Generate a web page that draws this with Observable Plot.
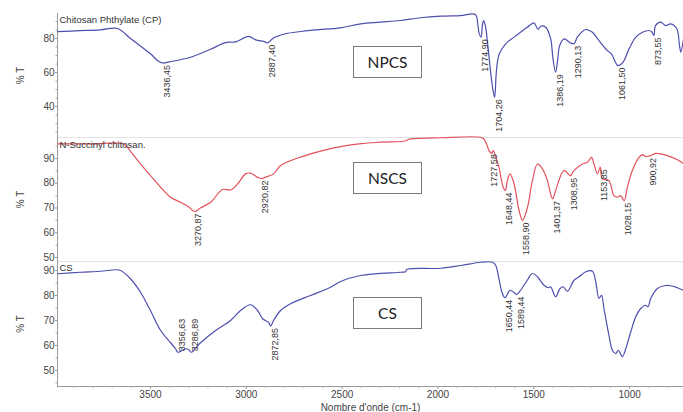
<!DOCTYPE html>
<html><head><meta charset="utf-8">
<script src="https://cdn.jsdelivr.net/npm/d3@7"></script>
<script src="https://cdn.jsdelivr.net/npm/@observablehq/plot@0.6"></script>
<style>
body{margin:0;background:#fff;font-family:"Liberation Sans",Arial,sans-serif;}
#wrap{position:relative;width:683px;height:412px;overflow:hidden;}
#wrap svg{display:block;overflow:visible;background:transparent;}
.box{position:absolute;left:353px;width:69px;height:32px;border:1px solid #7a7a7a;box-sizing:border-box;font-family:Lato,"Open Sans",sans-serif;font-size:15.5px;color:#222;display:flex;align-items:center;justify-content:center;background:#fff;}
</style></head>
<body><div id="wrap"></div>
<script>
// ---- data ----
const xDomain = [3985, 719];
const xTicks = [3500, 3000, 2500, 2000, 1500, 1000];
const xMinorTicks = [3900,3800,3700,3600,3400,3300,3200,3100,2900,2800,2700,2600,2400,2300,2200,2100,1900,1800,1700,1600,1400,1300,1200,1100,900,800];
const xLabel = "Nombre d'onde (cm-1)";
const yLabel = "% T";
const panelNames = ["NPCS", "NSCS", "CS"];
const sampleNames = ["Chitosan Phthylate (CP)", "N-Succinyl chitosan.", "CS"];

const npcsYTicks = [40, 60, 80];
const npcsYMinor = [25, 30, 35, 45, 50, 55, 65, 70, 75, 85, 90];
const nscsYTicks = [50, 60, 70, 80, 90];
const nscsYMinor = [55, 65, 75, 85, 95];
const csYTicks = [50, 60, 70, 80, 90];
const csYMinor = [45, 55, 65, 75, 85];

// [wavenumber cm-1, %T]
const npcs = [[3985,84.1],[3865,84.6],[3761,85.1],[3672,85.9],[3604,80],[3500,71],[3460,66.8],[3436.45,65.6],[3400,66.3],[3291,69],[3186,73.7],[3108,77.6],[3056,78],[2988,81.2],[2951,79.2],[2910,78.3],[2887.4,77.5],[2860,80.2],[2795,82.8],[2717,84.1],[2638,85.1],[2508,86.3],[2404,88.6],[2299,89.6],[2195,90.6],[2090,92.2],[1986,93.1],[1882,93.5],[1805,94.1],[1792,88],[1785,83],[1774.9,80.8],[1768,88],[1762,90.5],[1752,87],[1740,76],[1725,60],[1712,49],[1704.26,45.5],[1697,58],[1690,66],[1680,71],[1647,76.9],[1603,80.8],[1569,83.7],[1534,86.6],[1499,89.2],[1478,85.3],[1464,87.2],[1438,86.6],[1412,79.8],[1400,68],[1386.19,60.2],[1375,68],[1365,75.9],[1342,79.8],[1310,77.5],[1290.13,76.9],[1273,80.8],[1229,85.3],[1212,84.7],[1194,83.7],[1160,78.8],[1116,72.9],[1095,71],[1061.5,64.1],[1035,66],[1003,73.9],[968,80.8],[933,83.7],[899,84.7],[885,84],[873.55,81.8],[865,87.6],[838,89.6],[812,87.6],[786,88.6],[754,85.7],[740,76],[733,72],[719,79.8]];
const nscs = [[3985,95.9],[3800,95.9],[3640,95.9],[3604,92.9],[3552,87.8],[3500,83.1],[3447,78.4],[3395,74.4],[3343,72.3],[3300,70.4],[3270.87,68.6],[3240,70],[3186,72.3],[3124,77.5],[3082,77.3],[3045,79.8],[3004,83.8],[2978,84.1],[2945,82.6],[2920.82,81.9],[2899,82.5],[2858,83.8],[2821,87.2],[2743,89.9],[2664,91.9],[2586,93.5],[2508,94.8],[2400,96],[2299,96.6],[2165,97.2],[2155,97.7],[1986,98.4],[1777,98.6],[1760,97.9],[1740,94.5],[1734,93.2],[1727.58,92.6],[1720,92.1],[1712,93.2],[1700,91],[1682,86.5],[1660,78.5],[1648.44,77.1],[1638,81.1],[1624,83.8],[1603,79.8],[1577,69],[1558.9,65],[1533,70.3],[1507,81.1],[1481,87.8],[1455,85.8],[1429,81.1],[1410,75],[1401.37,73.7],[1386,77.1],[1342,85.2],[1308.95,83.1],[1290,85.2],[1246,87.8],[1220,88.5],[1199,90.5],[1186,87.8],[1168,83.8],[1153.85,86.5],[1142,81.8],[1108,81.1],[1082,75],[1064,74.4],[1047,75],[1028.15,73],[1012,78.4],[986,85.2],[951,90.5],[933,91.6],[916,90.8],[900.92,91],[890,91.2],[864,92.1],[803,91.2],[751,89.5],[716,87.8]];
const cs = [[3985,88.7],[3865,89.3],[3761,89.7],[3682,90.3],[3656,90],[3604,86.7],[3552,81.3],[3500,74],[3447,66],[3395,61.1],[3370,58.8],[3356.63,57.3],[3317,58.7],[3300,58.3],[3286.89,57.3],[3239,61.1],[3160,66],[3082,70],[3030,74],[2978,76.3],[2941,74],[2915,70.7],[2884,69.3],[2872.85,67.8],[2858,70],[2821,74],[2769,76.7],[2665,80],[2560,83.3],[2508,85.6],[2404,88],[2195,89.3],[2170,89.5],[2163,90.4],[1986,90.9],[1880,92],[1777,93.3],[1715,93.3],[1699,92.1],[1682,86.8],[1665,81],[1650.44,79.1],[1624,82.1],[1600,81],[1589.44,80.4],[1569,82.1],[1534,86.1],[1507,88.8],[1481,87.5],[1447,84.1],[1421,83.1],[1412,83.5],[1386,79.5],[1363,82.8],[1346,83.5],[1325,81.7],[1290,86.1],[1264,87.5],[1229,89.5],[1194,89.7],[1177,85.5],[1160,78.8],[1147,80.1],[1134,74.8],[1108,64.1],[1090,58.1],[1073,56.8],[1059,58.1],[1038,55.5],[1020,58.8],[994,65.5],[968,71.5],[942,74.8],[916,76.1],[904,75.5],[890,78.8],[855,82.8],[821,83.9],[786,83.9],[751,83.1],[719,82.1]];

// peak annotations: [wavenumber, label goes up?]
const npcsPeaks = [[3436.45,false],[2887.40,false],[1774.90,false],[1704.26,false],[1386.19,false],[1290.13,false],[1061.50,false],[873.55,false]];
const nscsPeaks = [[3270.87,false],[2920.82,false],[1727.58,false],[1648.44,false],[1558.90,false],[1401.37,false],[1308.95,false],[1153.85,false],[1028.15,false],[900.92,false]];
const csPeaks = [[3356.63,true],[3286.89,true],[2872.85,false],[1650.44,false],[1589.44,false]];

// ---- drawing ----
const FONT = "Liberation Sans, Arial, sans-serif";
function valueAt(data, wn) {
  for (let i = 0; i < data.length - 1; i++) {
    const [a, ta] = data[i], [b, tb] = data[i + 1];
    if (wn <= a && wn >= b) return ta + (tb - ta) * (a - wn) / (a - b);
  }
  return data[data.length - 1][1];
}
const fmt = (wn) => wn.toFixed(2).replace(".", ",");
const intFmt = (d) => String(d);

function makePanel(cfg) {
  const pts = cfg.data.map(([wn, t]) => ({wn, t}));
  const peaks = cfg.peaks.map(([wn, up]) => ({wn, t: valueAt(cfg.data, wn), label: fmt(wn), up}));
  const marks = [];
  if (cfg.sep) marks.push(Plot.ruleY([cfg.yDomain[1]], {stroke: "#e4e4e4"}));
  marks.push(Plot.ruleX([xDomain[0]], {stroke: "#9a9a9a"}));
  marks.push(Plot.axisY({ticks: cfg.yMinor, tickSize: 1.5, tickFormat: () => "", label: null, stroke: "#aaa"}));
  marks.push(Plot.axisY({ticks: cfg.yTicks, tickSize: 2, tickPadding: 1, tickFormat: intFmt, label: yLabel, labelAnchor: "center", labelOffset: 41, labelArrow: "none", fontSize: 10, color: "#444", stroke: "#999"}));
  if (cfg.bottom) {
    marks.push(Plot.ruleY([cfg.yDomain[0]], {stroke: "#9a9a9a"}));
    marks.push(Plot.axisX({ticks: xMinorTicks, tickSize: 2, tickFormat: () => "", label: null, stroke: "#aaa"}));
    marks.push(Plot.axisX({ticks: xTicks, tickSize: 3, tickPadding: 1, tickFormat: intFmt, label: xLabel, labelAnchor: "center", labelOffset: 24, labelArrow: "none", fontSize: 10, color: "#444", stroke: "#999"}));
  }
  marks.push(Plot.line(pts, {x: "wn", y: "t", stroke: cfg.color, strokeWidth: 1.2, curve: "catmull-rom"}));
  marks.push(Plot.text(peaks.filter(d => !d.up), {x: "wn", y: "t", text: "label", rotate: -90, textAnchor: "end", dx: 4, dy: 2, fontSize: 9, fill: "#333"}));
  marks.push(Plot.text(peaks.filter(d => d.up), {x: "wn", y: "t", text: "label", rotate: -90, textAnchor: "start", dx: 4, dy: -1, fontSize: 9, fill: "#333"}));
  marks.push(Plot.text([cfg.sample], {frameAnchor: "top-left", dx: 2, dy: cfg.sampleDy, fontSize: 9.5, fill: "#333"}));
  return Plot.plot({
    width: 683, height: cfg.height,
    marginLeft: 57, marginRight: 0, marginTop: cfg.marginTop, marginBottom: cfg.marginBottom,
    x: {domain: xDomain, axis: cfg.bottom ? undefined : null},
    y: {domain: cfg.yDomain},
    style: {fontFamily: FONT, background: "transparent", overflow: "visible"},
    marks
  });
}

const wrap = document.getElementById("wrap");
wrap.append(makePanel({data: npcs, peaks: npcsPeaks, color: "#4d4fae", yDomain: [21.8, 94.7], yTicks: npcsYTicks, yMinor: npcsYMinor, height: 137, marginTop: 13, marginBottom: 0, sample: sampleNames[0], sampleDy: 3}));
wrap.append(makePanel({data: nscs, peaks: nscsPeaks, color: "#e4525c", yDomain: [48.4, 98.5], yTicks: nscsYTicks, yMinor: nscsYMinor, height: 124, marginTop: 0, marginBottom: 0, sample: sampleNames[1], sampleDy: 4, sep: true}));
wrap.append(makePanel({data: cs, peaks: csPeaks, color: "#4d4fae", yDomain: [43.6, 93.6], yTicks: csYTicks, yMinor: csYMinor, height: 151, marginTop: 0, marginBottom: 26, sample: sampleNames[2], sampleDy: 3, sep: true, bottom: true}));

const boxTops = [46, 162, 297];
panelNames.forEach((name, i) => {
  const div = document.createElement("div");
  div.className = "box";
  div.style.top = boxTops[i] + "px";
  div.textContent = name;
  wrap.append(div);
});
</script>
</body></html>
